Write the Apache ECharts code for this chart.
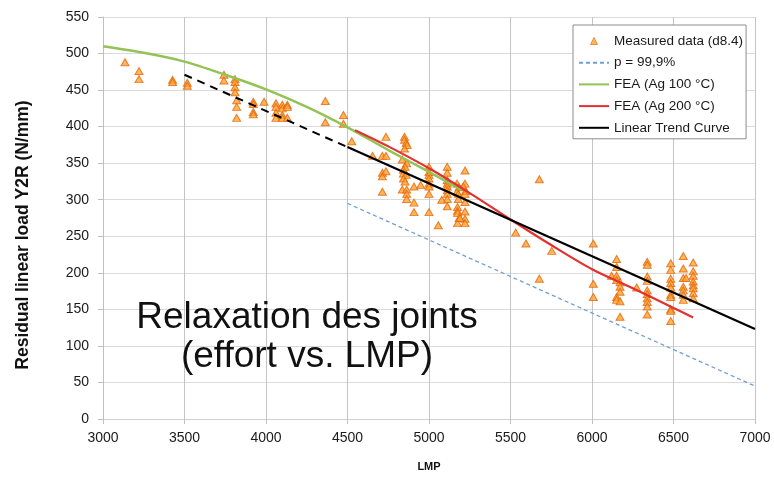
<!DOCTYPE html>
<html><head><meta charset="utf-8">
<script src="https://cdn.jsdelivr.net/npm/echarts@6/dist/echarts.min.js"></script>
<style>html,body{margin:0;padding:0;background:#fff}#c{width:774px;height:482px}</style>
</head><body><div id="c"></div>
<script>
// ---- data ----
const xTitle = 'LMP';
const yTitle = 'Residual linear load Y2R (N/mm)';
const annotationLines = ['Relaxation des joints', '(effort vs. LMP)'];
const legendNames = ['Measured data (d8.4)', 'p = 99,9%', 'FEA (Ag 100 °C)', 'FEA (Ag 200 °C)', 'Linear Trend Curve'];

const measured = [
  [3135,488],[3221,476],[3221,465],[3427,464],[3427,461],[3517,460],[3517,456],[3742,471],[3742,463],
  [3810,465],[3810,461],[3810,454],[3810,447],[3820,436],[3820,427],[3820,412],[3922,434],[3922,431],
  [3922,420],[3922,417],[3988,434],[4061,432],[4061,427],[4061,419],[4061,412],[4100,430],[4100,425],
  [4100,416],[4100,412],[4131,430],[4131,427],[4131,412],[4364,435],[4364,406],[4475,416],[4475,404],
  [4526,380],[4736,386],[4850,386],[4850,382],[4860,378],[4866,375],[4850,370],[4654,360],[4714,360],
  [4736,360],[4836,355],[4863,350],[4853,345],[4714,337],[4714,332],[4736,339],[4843,341],[4843,336],
  [4860,334],[4843,329],[4853,325],[5000,345],[5000,338],[5000,334],[5000,329],[5000,322],[5000,318],
  [5000,308],[5112,345],[5112,337],[5112,327],[5112,322],[5112,318],[5112,313],[5112,308],[5112,301],
  [5112,291],[5221,340],[5172,322],[5185,317],[5172,311],[5180,308],[5180,301],[5221,322],[5210,318],
  [5225,312],[5221,308],[5221,297],[4949,320],[4908,318],[4836,314],[4863,314],[4863,308],[4863,301],
  [4714,311],[4908,296],[4908,283],[5000,283],[5078,300],[5175,290],[5175,285],[5175,282],[5185,275],
  [5175,268],[5221,284],[5221,274],[5221,268],[5190,275],[5057,265],
  [5677,328],[5532,255],[5595,240],[5753,230],[5677,192],[6008,240],[6008,185],[6008,167],
  [6151,219],[6151,208],[6120,196],[6151,196],[6151,190],[6172,187],[6172,181],[6172,174],[6151,167],
  [6151,163],[6172,161],[6172,140],[6274,180],[6339,215],[6339,211],[6339,195],[6339,189],[6339,176],
  [6339,171],[6339,165],[6339,160],[6339,154],[6339,143],[6483,213],[6483,204],[6483,192],[6483,186],
  [6483,180],[6483,170],[6483,167],[6483,150],[6483,148],[6483,134],[6560,223],[6560,206],[6560,193],
  [6577,193],[6560,181],[6560,176],[6560,170],[6560,163],[6621,214],[6621,202],[6621,196],[6621,188],
  [6621,183],[6621,179],[6621,172],[6621,165]
];

const p999LMP = [4500, 7000];
const p999Load = [295, 45];

const fea100LMP = [3000, 3250, 3500, 3750, 4000, 4250, 4500, 4750, 5000, 5200];
const fea100Load = [510, 501, 489, 471, 451, 427, 399, 368, 338, 313];

const fea200LMP = [4546, 4750, 5000, 5250, 5500, 5750, 6000, 6250, 6500, 6620];
const fea200Load = [395, 373, 343, 309, 273, 238, 205, 179, 152, 139];

const trendDashLMP = [3500, 4500];
const trendDashLoad = [471, 372];
const trendLMP = [4500, 7000];
const trendLoad = [372, 123];

// ---- chart ----
const zip = (a, b) => a.map((v, i) => [v, b[i]]);
const FONT = '"Liberation Sans", Arial, sans-serif';
const hideDot = {opacity: 0};
// small centred triangle inside a 30x7 legend icon box
const legendTriangle = 'path://M0,0M30,7M11.5,7L15,0L18.5,7Z';

const chart = echarts.init(document.getElementById('c'), null, {renderer: 'canvas'});
chart.setOption({
  animation: false,
  backgroundColor: '#ffffff',
  textStyle: {fontFamily: FONT},
  grid: {left: 103, right: 19, top: 17, bottom: 63, containLabel: false},
  xAxis: {
    type: 'value', min: 3000, max: 7000, interval: 500,
    name: xTitle, nameLocation: 'middle', nameGap: 42,
    nameTextStyle: {fontFamily: FONT, fontWeight: 'bold', fontSize: 11, color: '#111'},
    axisLine: {show: true, lineStyle: {color: '#d0d0d0', width: 1}},
    axisTick: {show: true, length: 5, lineStyle: {color: '#c0c0c0'}},
    axisLabel: {fontFamily: FONT, fontSize: 14, color: '#1a1a1a', margin: 12, formatter: v => String(v)},
    splitLine: {show: true, lineStyle: {color: '#c4c4c4', width: 1}}
  },
  yAxis: {
    type: 'value', min: 0, max: 550, interval: 50,
    name: yTitle, nameLocation: 'middle', nameGap: 71, nameRotate: 90,
    nameTextStyle: {fontFamily: FONT, fontWeight: 'bold', fontSize: 17.5, color: '#111', padding: [0, 34, 0, 0]},
    axisLine: {show: true, lineStyle: {color: '#c0c0c0', width: 1}},
    axisTick: {show: true, length: 5, lineStyle: {color: '#c0c0c0'}},
    axisLabel: {fontFamily: FONT, fontSize: 14, color: '#1a1a1a', margin: 14},
    splitLine: {show: true, lineStyle: {color: '#dadada', width: 1}}
  },
  legend: {
    orient: 'vertical', left: 573, top: 25,
    padding: [9, 3, 4, 5], itemGap: 7.7, itemWidth: 30, itemHeight: 7, itemTextGap: 3,
    backgroundColor: '#ffffff', borderColor: '#8c8c8c', borderWidth: 1,
    textStyle: {fontFamily: FONT, fontSize: 13.5, color: '#1a1a1a'},
    data: [
      {name: legendNames[0], icon: legendTriangle, itemStyle: {color: '#ffa22e', borderColor: '#e5650b', borderWidth: 0.8}},
      {name: legendNames[1], itemStyle: hideDot},
      {name: legendNames[2], itemStyle: hideDot},
      {name: legendNames[3], itemStyle: hideDot},
      {name: legendNames[4], itemStyle: hideDot}
    ]
  },
  graphic: [
    {type: 'text', x: 307, y: 318, z: 100,
     style: {text: annotationLines[0], font: '37px "Liberation Sans", Arial, sans-serif', fill: '#111', textAlign: 'center', textVerticalAlign: 'middle'}},
    {type: 'text', x: 307, y: 357, z: 100,
     style: {text: annotationLines[1], font: '37px "Liberation Sans", Arial, sans-serif', fill: '#111', textAlign: 'center', textVerticalAlign: 'middle'}}
  ],
  series: [
    {name: legendNames[0], type: 'scatter', data: measured, symbol: 'triangle', symbolSize: [8, 7], z: 2,
     itemStyle: {color: '#ffa22e', borderColor: '#e5650b', borderWidth: 1}},
    {name: legendNames[1], type: 'line', data: zip(p999LMP, p999Load), symbol: 'none', z: 3,
     lineStyle: {color: '#6f9fd8', width: 1.3, type: [4, 3]}, itemStyle: {color: '#6f9fd8'}},
    {name: legendNames[2], type: 'line', data: zip(fea100LMP, fea100Load), symbol: 'none', smooth: 0.3, z: 3,
     lineStyle: {color: '#93c255', width: 2.5}, itemStyle: {color: '#93c255'}},
    {name: legendNames[3], type: 'line', data: zip(fea200LMP, fea200Load), symbol: 'none', smooth: 0.3, z: 4,
     lineStyle: {color: '#e2312f', width: 2.2}, itemStyle: {color: '#e2312f'}},
    {name: legendNames[4], type: 'line', data: zip(trendLMP, trendLoad), symbol: 'none', z: 5,
     lineStyle: {color: '#000000', width: 2.2}, itemStyle: {color: '#000000'}},
    {name: 'trendDashed', type: 'line', data: zip(trendDashLMP, trendDashLoad), symbol: 'none', z: 5,
     lineStyle: {color: '#000000', width: 2, type: [8, 6]}, itemStyle: {color: '#000000'}}
  ]
});
</script>
</body></html>
